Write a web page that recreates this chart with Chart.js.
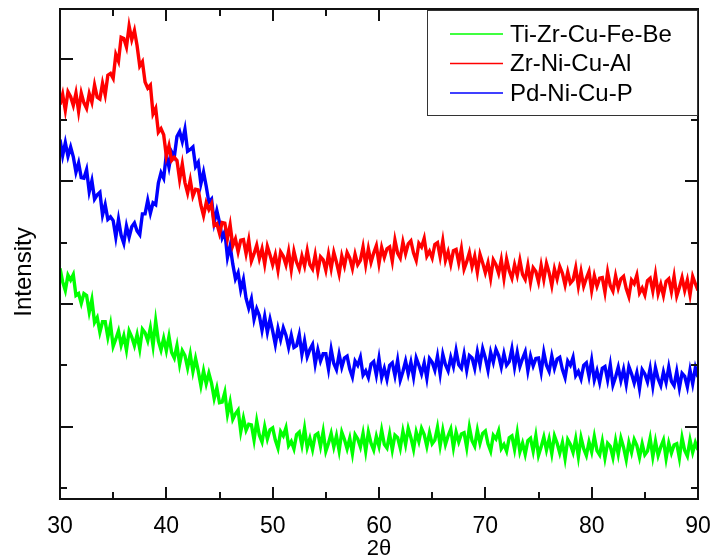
<!DOCTYPE html>
<html>
<head>
<meta charset="utf-8">
<script src="https://cdn.jsdelivr.net/npm/chart.js@4.4.1/dist/chart.umd.min.js"></script>
<style>
  html, body { margin: 0; padding: 0; background: #fff; }
  #xrd { display: block; }
</style>
</head>
<body>
<canvas id="xrd" width="714" height="558"></canvas>
<script>
// series at 0.25 deg steps (intensity in arbitrary counts)
const seriesNames = ['Ti-Zr-Cu-Fe-Be', 'Zr-Ni-Cu-Al', 'Pd-Ni-Cu-P'];
const seriesColors = ['#00ff00', '#ff0000', '#0000ff'];
const twoThetaStart = 30;
const twoThetaStep = 0.25;
const xTicks = [30, 35, 40, 45, 50, 55, 60, 65, 70, 75, 80, 85, 90];
const yTicks = [0, 100, 200, 300, 400, 500, 600, 700];

const tiZrCuFeBe = [
  358, 336, 322, 347, 339, 348, 314, 317, 301, 317, 314, 287, 307, 270, 278, 254,
  271, 271, 246, 267, 231, 243, 256, 233, 248, 225, 256, 246, 232, 250, 227, 259,
  253, 240, 261, 232, 272, 240, 225, 244, 224, 247, 221, 212, 232, 202, 224, 216,
  196, 218, 190, 211, 191, 167, 191, 170, 187, 171, 146, 163, 139, 140, 156, 120,
  140, 112, 121, 127, 92, 114, 94, 104, 103, 78, 109, 86, 75, 100, 80, 95,
  98, 78, 65, 92, 85, 98, 69, 76, 64, 87, 91, 70, 97, 66, 81, 63,
  86, 89, 68, 92, 60, 73, 89, 67, 85, 61, 91, 79, 64, 81, 56, 87,
  80, 67, 89, 60, 91, 73, 62, 84, 68, 94, 71, 65, 88, 62, 86, 82,
  65, 92, 71, 97, 82, 63, 91, 76, 97, 87, 68, 90, 72, 78, 99, 69,
  94, 71, 85, 96, 66, 91, 75, 88, 90, 66, 99, 77, 68, 94, 73, 89,
  93, 72, 60, 86, 80, 93, 64, 71, 60, 82, 85, 63, 90, 59, 73, 55,
  77, 81, 60, 85, 53, 67, 83, 62, 80, 56, 85, 73, 57, 74, 48, 79,
  71, 58, 80, 51, 82, 64, 53, 75, 59, 84, 61, 54, 76, 49, 73, 68,
  50, 77, 55, 81, 66, 46, 74, 58, 79, 69, 50, 72, 54, 60, 81, 51,
  76, 53, 67, 78, 48, 73, 57, 70, 72, 49, 82, 61, 52, 78, 58, 74,
  62
];

const zrNiCuAl = [
  625, 642, 616, 646, 638, 624, 644, 614, 644, 628, 619, 643, 629, 657, 637, 634,
  660, 641, 673, 676, 668, 707, 696, 735, 733, 719, 753, 731, 746, 721, 688, 695,
  662, 652, 657, 610, 619, 580, 586, 576, 541, 558, 534, 539, 534, 503, 528, 498,
  481, 502, 476, 487, 486, 461, 444, 465, 454, 463, 428, 431, 415, 433, 432, 407,
  429, 395, 406, 385, 404, 405, 382, 404, 370, 382, 396, 374, 390, 365, 394, 380,
  364, 380, 355, 385, 378, 364, 386, 356, 386, 368, 357, 378, 362, 387, 364, 357,
  380, 353, 377, 372, 355, 381, 358, 384, 368, 349, 378, 362, 384, 375, 358, 381,
  364, 371, 393, 364, 390, 368, 383, 395, 366, 392, 376, 390, 393, 370, 404, 383,
  375, 401, 382, 398, 403, 383, 371, 399, 393, 407, 378, 386, 375, 397, 400, 377,
  403, 371, 385, 365, 387, 389, 367, 390, 357, 369, 384, 361, 378, 352, 381, 367,
  351, 367, 342, 372, 364, 350, 372, 342, 373, 354, 342, 364, 347, 371, 348, 340,
  363, 335, 359, 353, 336, 363, 340, 366, 351, 330, 357, 341, 361, 350, 331, 352,
  334, 339, 359, 329, 353, 329, 342, 353, 322, 346, 329, 342, 343, 319, 352, 330,
  321, 346, 326, 341, 345, 325, 312, 339, 333, 347, 318, 326, 315, 338, 342, 321,
  348, 317, 332, 314, 337, 341, 320, 345, 313, 327, 343, 322, 339, 315, 345, 333,
  322
];

const pdNiCuP = [
  568, 542, 563, 541, 556, 540, 515, 530, 506, 505, 519, 483, 501, 471, 478, 482,
  445, 462, 438, 442, 436, 409, 438, 412, 399, 427, 409, 426, 432, 419, 413, 447,
  447, 469, 448, 465, 462, 497, 514, 505, 544, 523, 548, 540, 573, 581, 565, 585,
  549, 552, 556, 524, 531, 496, 515, 492, 466, 471, 433, 452, 433, 408, 418, 376,
  395, 365, 341, 351, 323, 340, 309, 293, 308, 275, 292, 281, 257, 280, 254, 275,
  256, 234, 260, 242, 261, 249, 229, 249, 229, 232, 250, 218, 240, 214, 226, 234,
  202, 225, 207, 219, 219, 194, 226, 203, 193, 218, 197, 212, 215, 194, 181, 207,
  200, 213, 184, 191, 180, 202, 206, 184, 211, 180, 195, 177, 200, 204, 183, 208,
  176, 190, 207, 186, 205, 181, 212, 200, 186, 204, 179, 211, 205, 192, 215, 186,
  218, 201, 191, 213, 198, 224, 201, 195, 218, 192, 216, 212, 195, 222, 201, 227,
  212, 192, 221, 205, 226, 216, 197, 219, 200, 206, 227, 197, 221, 198, 211, 222,
  191, 215, 199, 211, 212, 189, 221, 200, 190, 215, 195, 210, 213, 193, 180, 207,
  200, 213, 183, 190, 178, 200, 204, 182, 208, 176, 191, 172, 195, 198, 176, 201,
  168, 181, 197, 175, 193, 169, 198, 186, 171, 188, 162, 193, 186, 173, 195, 166,
  196, 178, 167, 189, 172, 197, 174, 167, 190, 163, 187, 182, 165, 192, 170, 196,
  181
];

const seriesValues = [tiZrCuFeBe, zrNiCuAl, pdNiCuP];
const yTitle = 'Intensity';

const toPoints = (values) =>
  values.map((v, i) => ({ x: twoThetaStart + i * twoThetaStep, y: v }));

const FONT = '"Liberation Sans", Arial, sans-serif';

// inward ticks on all four sides, the frame, the y title and the boxed legend
const frameAndLegend = {
  id: 'frameAndLegend',
  afterDatasetsDraw(chart) {
    const { ctx, chartArea: a, scales } = chart;
    const x = scales.x;
    const y = scales.y;
    ctx.save();
    ctx.strokeStyle = '#111';
    ctx.lineWidth = 2;

    const seg = (x1, y1, x2, y2) => {
      ctx.beginPath();
      ctx.moveTo(x1, y1);
      ctx.lineTo(x2, y2);
      ctx.stroke();
    };

    x.ticks.forEach((t) => {
      const px = Math.round(x.getPixelForValue(t.value));
      const len = t.value % 10 === 0 ? 12 : 7;
      seg(px, a.bottom, px, a.bottom - len);
      seg(px, a.top, px, a.top + len);
    });
    y.ticks.forEach((t) => {
      if (!yTicks.includes(t.value)) return;
      const py = Math.round(y.getPixelForValue(t.value));
      const len = t.value % 200 === 100 ? 13 : 7;
      seg(a.left, py, a.left + len, py);
      seg(a.right, py, a.right - len, py);
    });

    ctx.strokeRect(a.left, a.top, a.right - a.left, a.bottom - a.top);

    // y title sits a little below the middle of the axis in the original
    ctx.save();
    ctx.translate(24, (a.top + a.bottom) / 2 + 18);
    ctx.rotate(-Math.PI / 2);
    ctx.font = '24px ' + FONT;
    ctx.fillStyle = '#000';
    ctx.textAlign = 'center';
    ctx.textBaseline = 'middle';
    ctx.fillText(yTitle, 0, 0);
    ctx.restore();

    // legend box, top right inside the plot
    const boxW = 270, boxH = 105;
    const bx = a.right - boxW - 1;
    const by = a.top + 1;
    ctx.fillStyle = '#fff';
    ctx.fillRect(bx, by, boxW, boxH);
    ctx.lineWidth = 1;
    ctx.strokeStyle = '#333';
    ctx.strokeRect(bx + 0.5, by + 0.5, boxW, boxH);

    ctx.font = '24px ' + FONT;
    ctx.textBaseline = 'middle';
    ctx.textAlign = 'left';
    chart.data.datasets.forEach((ds, i) => {
      const ly = by + 24 + i * 29.5;
      ctx.strokeStyle = ds.borderColor;
      ctx.lineWidth = 1.5;
      seg(bx + 23, ly, bx + 76, ly);
      ctx.fillStyle = '#000';
      ctx.fillText(ds.label, bx + 83, ly + 1);
    });
    ctx.restore();
  }
};

new Chart(document.getElementById('xrd'), {
  type: 'line',
  data: {
    datasets: seriesNames.map((name, i) => ({
      label: name,
      data: toPoints(seriesValues[i]),
      borderColor: seriesColors[i],
      borderWidth: 3.4,
      borderJoinStyle: 'miter',
      pointRadius: 0,
      tension: 0,
      fill: false
    }))
  },
  options: {
    responsive: false,
    animation: false,
    devicePixelRatio: 1,
    layout: { padding: { top: 9, right: 16, left: 0, bottom: 0 } },
    plugins: {
      legend: { display: false },
      tooltip: { enabled: false }
    },
    scales: {
      x: {
        type: 'linear',
        min: 30,
        max: 90,
        afterBuildTicks: (scale) => { scale.ticks = xTicks.map((v) => ({ value: v })); },
        afterFit: (scale) => {
          scale.height = 59;
          scale.paddingLeft = 0;
          scale.paddingRight = 0;
        },
        grid: { display: false, drawTicks: false },
        border: { display: false },
        ticks: {
          padding: 14,
          color: '#000',
          font: { family: FONT, size: 23 },
          maxRotation: 0,
          callback: (v) => (v % 10 === 0 ? String(v) : '')
        },
        title: {
          display: true,
          text: '2θ',
          color: '#000',
          font: { family: FONT, size: 22, lineHeight: 1 },
          padding: { top: 0, bottom: -2 }
        }
      },
      y: {
        type: 'linear',
        min: -18,
        max: 781,
        afterBuildTicks: (scale) => { scale.ticks = yTicks.map((v) => ({ value: v })); },
        afterFit: (scale) => { scale.width = 60; },
        grid: { display: false, drawTicks: false },
        border: { display: false },
        ticks: { display: false },
        title: { display: false }
      }
    }
  },
  plugins: [frameAndLegend]
});
</script>
</body>
</html>
